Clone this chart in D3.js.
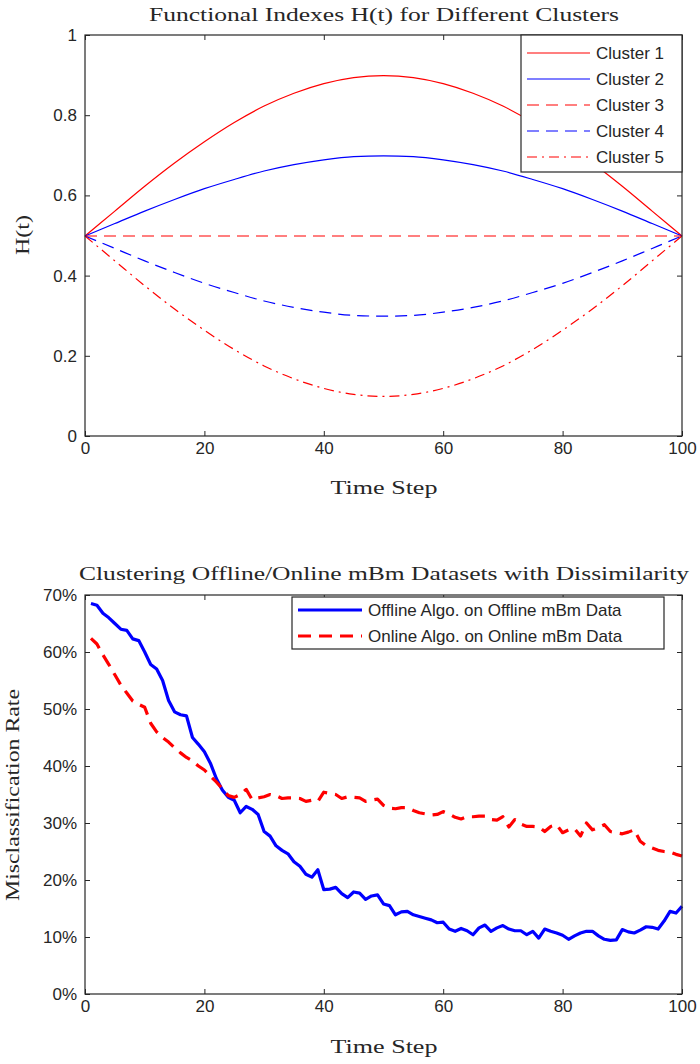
<!DOCTYPE html>
<html>
<head>
<meta charset="utf-8">
<script src="https://cdn.jsdelivr.net/npm/d3@7"></script>
<style>
  body { margin: 0; background: #fff; }
  svg { display: block; }
</style>
</head>
<body>
<svg id="chart" width="700" height="1064"></svg>
<script>
// ---- data: top panel, H(t) read every 5 steps ----
const timeSteps = [0,5,10,15,20,25,30,35,40,45,50,55,60,65,70,75,80,85,90,95,100];
const cluster1 = [0.5,0.562,0.624,0.682,0.735,0.783,0.824,0.856,0.880,0.895,0.9,0.895,0.880,0.856,0.824,0.783,0.735,0.682,0.624,0.562,0.5];
const cluster2 = [0.5,0.531,0.562,0.591,0.618,0.641,0.662,0.678,0.690,0.698,0.7,0.698,0.690,0.678,0.662,0.641,0.618,0.591,0.562,0.531,0.5];
const cluster3 = [0.5,0.5,0.5,0.5,0.5,0.5,0.5,0.5,0.5,0.5,0.5,0.5,0.5,0.5,0.5,0.5,0.5,0.5,0.5,0.5,0.5];
const cluster4 = [0.5,0.469,0.438,0.409,0.382,0.359,0.338,0.322,0.310,0.302,0.3,0.302,0.310,0.322,0.338,0.359,0.382,0.409,0.438,0.469,0.5];
const cluster5 = [0.5,0.438,0.376,0.318,0.265,0.217,0.176,0.144,0.120,0.105,0.1,0.105,0.120,0.144,0.176,0.217,0.265,0.318,0.376,0.438,0.5];
const clusterNames = ["Cluster 1","Cluster 2","Cluster 3","Cluster 4","Cluster 5"];

// ---- data: bottom panel, misclassification rate (%) at steps 1..100 ----
const steps = d3.range(1, 101);
const offlineRate = [
  68.5,68.2,66.8,66.0,65.0,64.0,63.8,62.3,62.0,60.0,
  57.8,57.0,55.0,51.5,49.5,49.0,48.8,45.0,43.8,42.5,
  40.5,37.8,35.8,34.5,34.0,31.8,32.9,32.4,31.5,28.5,
  27.7,26.0,25.2,24.6,23.2,22.4,21.0,20.5,21.8,18.3,
  18.4,18.7,17.6,16.9,17.9,17.7,16.6,17.2,17.4,15.8,
  15.5,13.9,14.4,14.5,13.9,13.6,13.3,13.0,12.5,12.6,
  11.4,11.0,11.5,11.1,10.4,11.6,12.1,11.0,11.6,12.0,
  11.4,11.1,11.1,10.4,11.0,9.8,11.4,11.0,10.7,10.3,
  9.6,10.2,10.7,11.0,11.0,10.2,9.6,9.4,9.5,11.3,
  10.9,10.7,11.2,11.8,11.7,11.4,12.8,14.5,14.2,15.4
];
const onlineRate = [
  62.4,61.4,59.5,57.8,56.0,54.2,52.8,51.4,50.8,50.3,
  47.5,46.0,45.0,44.2,43.2,42.3,41.5,40.9,40.0,39.3,
  38.2,37.2,36.0,34.8,34.5,35.0,35.9,34.1,34.4,34.6,
  35.0,34.8,34.3,34.4,34.4,34.3,33.8,34.0,33.8,35.4,
  35.2,35.0,34.3,34.6,34.5,34.4,33.8,34.0,34.2,33.1,
  32.6,32.5,32.7,32.7,32.2,31.8,31.6,31.4,31.5,32.0,
  31.6,31.0,30.7,31.1,31.1,31.2,31.2,30.6,30.5,31.1,
  29.3,30.6,29.8,29.4,29.4,29.3,28.5,29.4,29.7,28.3,
  28.8,29.0,27.7,30.0,28.8,29.2,29.7,28.5,28.3,28.1,
  28.4,28.8,26.8,26.0,25.6,25.2,25.0,24.9,24.5,24.2
];
const rateNames = ["Offline Algo. on Offline mBm Data","Online Algo. on Online mBm Data"];

const xTicks = [0,20,40,60,80,100];
const hTicks = [0,0.2,0.4,0.6,0.8,1];
const rateTicks = [0,10,20,30,40,50,60,70];

const svg = d3.select("#chart");
const axisColor = "#262626";
const sans = "'Liberation Sans', Arial, sans-serif";
const serif = "'Liberation Serif', 'DejaVu Serif', serif";

// draws box, inward ticks on all four sides, labels left/bottom
function frame(g, x, y, yTicks, yFmt) {
  const [x0, x1] = x.range(), [y1, y0] = y.range();
  g.append("g").attr("transform", `translate(0,${y1})`)
    .call(d3.axisBottom(x).tickValues(xTicks).tickSizeInner(-5).tickSizeOuter(0).tickPadding(6));
  g.append("g").attr("transform", `translate(0,${y0})`)
    .call(d3.axisTop(x).tickValues(xTicks).tickSizeInner(-5).tickSizeOuter(0).tickFormat(""));
  g.append("g").attr("transform", `translate(${x0},0)`)
    .call(d3.axisLeft(y).tickValues(yTicks).tickSizeInner(-5).tickSizeOuter(0).tickPadding(8).tickFormat(yFmt));
  g.append("g").attr("transform", `translate(${x1},0)`)
    .call(d3.axisRight(y).tickValues(yTicks).tickSizeInner(-5).tickSizeOuter(0).tickFormat(""));
  g.selectAll(".domain").remove();
  g.selectAll(".tick line").attr("stroke", axisColor);
  g.selectAll(".tick text").attr("fill", axisColor).style("font-family", sans).style("font-size", "17px");
  g.append("rect").attr("x", x0).attr("y", y0).attr("width", x1 - x0).attr("height", y1 - y0)
    .attr("fill", "none").attr("stroke", axisColor).attr("stroke-width", 1.2);
}

function label(txt, x, y, size, len, rot) {
  const t = svg.append("text")
    .attr("x", x).attr("y", y)
    .attr("text-anchor", "middle").attr("dominant-baseline", "central")
    .attr("fill", axisColor).style("font-family", serif).style("font-size", size + "px")
    .text(txt);
  if (len) t.attr("textLength", len).attr("lengthAdjust", "spacingAndGlyphs");
  if (rot) t.attr("transform", `rotate(-90,${x},${y})`);
}

/* ---------- top panel ---------- */
const xTop = d3.scaleLinear().domain([0, 100]).range([85, 682]);
const yTop = d3.scaleLinear().domain([0, 1]).range([436, 35]);
const gTop = svg.append("g");

const clusters = [
  { name: clusterNames[0], v: cluster1, color: "#ff0000", dash: null },
  { name: clusterNames[1], v: cluster2, color: "#0000ff", dash: null },
  { name: clusterNames[2], v: cluster3, color: "#ff0000", dash: "12,7" },
  { name: clusterNames[3], v: cluster4, color: "#0000ff", dash: "12,7" },
  { name: clusterNames[4], v: cluster5, color: "#ff0000", dash: "10,5,2,5" }
];
const lineTop = d3.line().x((d, i) => xTop(timeSteps[i])).y(d => yTop(d)).curve(d3.curveMonotoneX);

// half-pixel nudge so the flat 0.5 line antialiases like the others
gTop.append("g").attr("transform", "translate(0,0.5)")
  .selectAll("path").data(clusters).join("path")
  .attr("d", d => lineTop(d.v))
  .attr("fill", "none").attr("stroke", d => d.color).attr("stroke-width", 1.2)
  .attr("stroke-dasharray", d => d.dash);

frame(gTop, xTop, yTop, hTicks, d => d3.format("~g")(d));

// legend (flush with upper-right corner)
const legTop = gTop.append("g");
legTop.append("rect").attr("x", 521).attr("y", 35).attr("width", 161).attr("height", 137)
  .attr("fill", "#fff").attr("stroke", axisColor).attr("stroke-width", 1.2);
const rowTop = legTop.selectAll("g.row").data(clusters).join("g")
  .attr("transform", (d, i) => `translate(0,${53 + i * 26})`);
rowTop.append("line").attr("x1", 527).attr("x2", 590)
  .attr("stroke", d => d.color).attr("stroke-width", 1.2).attr("stroke-dasharray", d => d.dash);
rowTop.append("text").attr("x", 596).attr("dy", "0.35em")
  .attr("fill", axisColor).style("font-family", sans).style("font-size", "17px")
  .text(d => d.name);

label("Functional Indexes H(t) for Different Clusters", 384, 14, 19, 470);
label("Time Step", 384, 487, 19, 107);
label("H(t)", 22, 235, 19, 40, true);

/* ---------- bottom panel ---------- */
const xBot = d3.scaleLinear().domain([0, 100]).range([85, 682]);
const yBot = d3.scaleLinear().domain([0, 70]).range([994, 595]);
const gBot = svg.append("g");

const rates = [
  { name: rateNames[0], v: offlineRate, color: "#0000ff", dash: null },
  { name: rateNames[1], v: onlineRate, color: "#ff0000", dash: "13,8" }
];
const lineBot = d3.line().x((d, i) => xBot(steps[i])).y(d => yBot(d));

gBot.append("g").selectAll("path").data(rates).join("path")
  .attr("d", d => lineBot(d.v))
  .attr("fill", "none").attr("stroke", d => d.color).attr("stroke-width", 3.2)
  .attr("stroke-linejoin", "round").attr("stroke-dasharray", d => d.dash);

frame(gBot, xBot, yBot, rateTicks, d => d + "%");

const legBot = gBot.append("g");
legBot.append("rect").attr("x", 292).attr("y", 597).attr("width", 372).attr("height", 52)
  .attr("fill", "#fff").attr("stroke", axisColor).attr("stroke-width", 1.2);
const rowBot = legBot.selectAll("g.row").data(rates).join("g")
  .attr("transform", (d, i) => `translate(0,${610 + i * 26})`);
rowBot.append("line").attr("x1", 298).attr("x2", 362)
  .attr("stroke", d => d.color).attr("stroke-width", 3.2).attr("stroke-dasharray", d => d.dash);
rowBot.append("text").attr("x", 368).attr("dy", "0.35em")
  .attr("fill", axisColor).style("font-family", sans).style("font-size", "17px")
  .text(d => d.name);

label("Clustering Offline/Online mBm Datasets with Dissimilarity", 384, 573, 19, 610);
label("Time Step", 384, 1046, 19, 107);
label("Misclassification Rate", 12, 795, 19, 212, true);
</script>
</body>
</html>
